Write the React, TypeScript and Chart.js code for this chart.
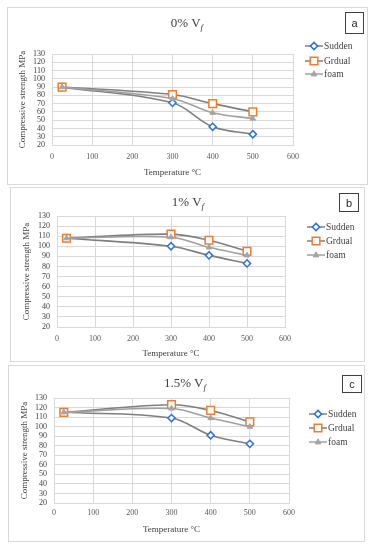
import React, { useEffect, useRef } from 'react';
import { Chart, registerables } from 'chart.js';

Chart.register(...registerables);

// ---- data ----
const temperatures = [25, 300, 400, 500];
const seriesNames = ['Sudden', 'Grdual', 'foam'];
const xTickMin = 0;
const xTickMax = 600;
const xTickStep = 100;
const yTickMin = 20;
const yTickMax = 130;
const yTickStep = 10;

const sudden0 = [90, 71, 42, 33];
const gradual0 = [90, 81, 70, 60];
const foam0 = [90, 76, 59, 52];

const sudden1 = [108, 100, 91, 83];
const gradual1 = [108, 112, 106, 95];
const foam1 = [108, 109, 99, 91];

const sudden15 = [115, 109, 91, 82];
const gradual15 = [115, 123, 117, 105];
const foam15 = [115, 119, 109, 100];

const panelPercents = ['0%', '1%', '1.5%'];
const panelLetters = ['a', 'b', 'c'];
const panelSeries = [
  [sudden0, gradual0, foam0],
  [sudden1, gradual1, foam1],
  [sudden15, gradual15, foam15],
];

// ---- styles ----
const SERIF = '"Liberation Serif", "DejaVu Serif", serif';
const seriesStyles = [
  { line: '#7f7f7f', border: '#2a72d4', fill: '#ffffff', shape: 'rectRot', radius: 3.6, bw: 1.5 },
  { line: '#7f7f7f', border: '#ED7D31', fill: '#ffffff', shape: 'rect', radius: 5.4, bw: 1.5 },
  { line: '#a0a0a0', border: '#a5a5a5', fill: '#a5a5a5', shape: 'triangle', radius: 3.2, bw: 1 },
];

const layouts = [
  { left: 7, top: 7, w: 361, h: 178, pl: 45, pt: 47, pr: 75, xh: 40, titleX: 180, titleY: 16,
    box: { x: 338, y: 5, w: 19, h: 22 }, legX: 298, legY: [39, 54, 67], yTitlePad: 10, xTitlePad: 7, xTickPad: 7 },
  { left: 10, top: 187, w: 355, h: 175, pl: 47, pt: 29, pr: 80, xh: 35, titleX: 178, titleY: 15,
    box: { x: 329, y: 6, w: 20, h: 19 }, legX: 297, legY: [40, 54, 68], yTitlePad: 11, xTitlePad: 3, xTickPad: 7 },
  { left: 8, top: 365, w: 357, h: 177, pl: 46, pt: 33, pr: 76, xh: 39, titleX: 177, titleY: 18,
    box: { x: 334, y: 10, w: 20, h: 18 }, legX: 301, legY: [49, 63, 77], yTitlePad: 11, xTitlePad: 7, xTickPad: 5 },
];

function drawMarker(ctx: CanvasRenderingContext2D, shape: string, x: number, y: number, r: number) {
  ctx.beginPath();
  if (shape === 'rectRot') {
    ctx.moveTo(x, y - r);
    ctx.lineTo(x + r, y);
    ctx.lineTo(x, y + r);
    ctx.lineTo(x - r, y);
    ctx.closePath();
  } else if (shape === 'rect') {
    const s = r * Math.SQRT1_2;
    ctx.rect(x - s, y - s, 2 * s, 2 * s);
  } else {
    const h = r * 1.5;
    ctx.moveTo(x, y - r);
    ctx.lineTo(x + r * 0.9, y + r * 0.6);
    ctx.lineTo(x - r * 0.9, y + r * 0.6);
    ctx.closePath();
    void h;
  }
  ctx.fill();
  ctx.stroke();
}

function Panel({ idx }: { idx: number }) {
  const ref = useRef<HTMLCanvasElement | null>(null);
  const L = layouts[idx];

  useEffect(() => {
    if (!ref.current) return;
    const data = panelSeries[idx];
    const legendPlugin = {
      id: 'customLegend',
      afterDraw(chart: any) {
        const ctx = chart.ctx as CanvasRenderingContext2D;
        ctx.save();
        seriesNames.forEach((name, i) => {
          const st = seriesStyles[i];
          const y = L.legY[i];
          ctx.strokeStyle = st.line;
          ctx.lineWidth = 1.5;
          ctx.beginPath();
          ctx.moveTo(L.legX, y);
          ctx.lineTo(L.legX + 18, y);
          ctx.stroke();
          ctx.fillStyle = st.fill;
          ctx.strokeStyle = st.border;
          ctx.lineWidth = st.bw;
          drawMarker(ctx, st.shape, L.legX + 9, y, st.radius);
          ctx.fillStyle = '#404040';
          ctx.font = `9.5px ${SERIF}`;
          ctx.textBaseline = 'middle';
          ctx.textAlign = 'left';
          ctx.fillText(name, L.legX + 19, y + 0.5);
        });
        ctx.restore();
      },
    };

    const chart = new Chart(ref.current, {
      type: 'line',
      data: {
        datasets: seriesNames.map((name, i) => ({
          label: name,
          data: temperatures.map((t, j) => ({ x: t, y: data[i][j] })),
          borderColor: seriesStyles[i].line,
          borderWidth: 1.6,
          backgroundColor: seriesStyles[i].fill,
          pointStyle: seriesStyles[i].shape as any,
          pointRadius: seriesStyles[i].radius,
          pointBorderColor: seriesStyles[i].border,
          pointBackgroundColor: seriesStyles[i].fill,
          pointBorderWidth: seriesStyles[i].bw,
          tension: 0.35,
          fill: false,
          order: 3 - i,
        })),
      },
      options: {
        animation: false,
        responsive: false,
        maintainAspectRatio: false,
        layout: { padding: { top: L.pt, right: L.pr, left: 0, bottom: 0 } },
        plugins: {
          legend: { display: false },
          title: { display: false },
          tooltip: { enabled: false },
        },
        scales: {
          x: {
            type: 'linear',
            min: xTickMin,
            max: xTickMax,
            ticks: { stepSize: xTickStep, color: '#595959', font: { family: SERIF, size: 8 }, padding: L.xTickPad, maxRotation: 0 },
            grid: { color: '#d9d9d9', drawTicks: false },
            border: { color: '#d9d9d9' },
            title: {
              display: true,
              text: 'Temperature °C',
              color: '#404040',
              font: { family: SERIF, size: 9 },
              padding: { top: 0, bottom: L.xTitlePad },
            },
            afterFit: (s: any) => { s.height = L.xh; },
          },
          y: {
            min: yTickMin,
            max: yTickMax,
            ticks: { stepSize: yTickStep, autoSkip: false, color: '#404040', font: { family: SERIF, size: 8 }, padding: 7 },
            grid: { color: '#d9d9d9', drawTicks: false },
            border: { color: '#d9d9d9' },
            title: {
              display: true,
              text: 'Compressive strength MPa',
              color: '#404040',
              font: { family: SERIF, size: 9 },
              padding: { top: L.yTitlePad, bottom: 0 },
            },
            afterFit: (s: any) => { s.width = L.pl; },
          },
        },
      },
      plugins: [legendPlugin],
    });
    return () => chart.destroy();
  }, [idx]);

  return (
    <div style={{ position: 'absolute', left: L.left, top: L.top, width: L.w, height: L.h, background: '#fff' }}>
      <canvas ref={ref} width={L.w} height={L.h} style={{ position: 'absolute', left: 0, top: 0, width: L.w, height: L.h }} />
      <div style={{ position: 'absolute', left: 0, top: 0, width: L.w - 2, height: L.h - 2, border: '1px solid #d9d9d9', pointerEvents: 'none' }} />
      <div style={{ position: 'absolute', left: L.titleX, top: L.titleY, transform: 'translate(-50%, -50%)', font: `13px ${SERIF}`, color: '#404040', whiteSpace: 'nowrap', lineHeight: '16px' }}>
        {panelPercents[idx]} V<span style={{ fontStyle: 'italic', fontSize: '9px', position: 'relative', top: 3 }}>f</span>
      </div>
      <div style={{ position: 'absolute', left: L.box.x, top: L.box.y, width: L.box.w - 2, height: L.box.h - 2, border: '1px solid #404040', display: 'flex', alignItems: 'center', justifyContent: 'center', font: '11px "Liberation Sans", Arial, sans-serif', color: '#262626' }}>
        {panelLetters[idx]}
      </div>
    </div>
  );
}

export default function App() {
  return (
    <div style={{ position: 'absolute', left: 0, top: 0, width: 378, height: 550, background: '#fff' }}>
      <Panel idx={0} />
      <Panel idx={1} />
      <Panel idx={2} />
    </div>
  );
}
